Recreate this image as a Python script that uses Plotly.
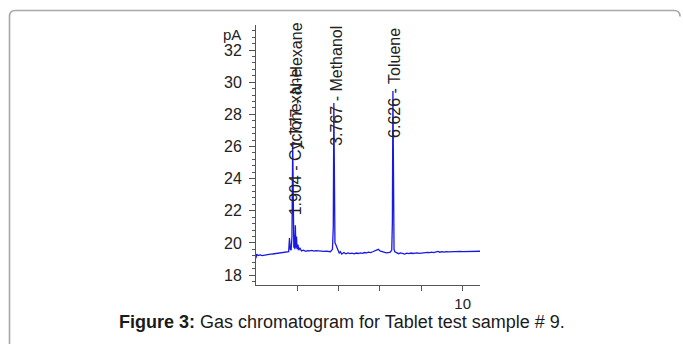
import plotly.graph_objects as go

# Retention time (min) and detector signal (pA)
time_min = [0.00, 0.03, 0.10, 0.20, 0.30, 0.40, 0.50, 0.60, 0.70, 0.80, 0.90, 1.00,
            1.10, 1.20, 1.30, 1.40, 1.50, 1.58, 1.62, 1.66, 1.70, 1.74, 1.777, 1.80,
            1.83, 1.86, 1.88, 1.904, 1.93, 1.96, 1.99, 2.03, 2.07, 2.12, 2.20, 2.30,
            2.40, 2.50, 2.60, 2.70, 2.80, 2.90, 3.00, 3.10, 3.20, 3.30, 3.40, 3.50,
            3.60, 3.70, 3.74, 3.767, 3.79, 3.82, 3.86, 3.92, 3.98, 4.03, 4.08, 4.15,
            4.25, 4.35, 4.45, 4.55, 4.65, 4.75, 4.85, 4.95, 5.05, 5.15, 5.25, 5.35,
            5.45, 5.55, 5.65, 5.75, 5.85, 5.92, 6.00, 6.10, 6.20, 6.30, 6.40, 6.50,
            6.57, 6.60, 6.626, 6.65, 6.68, 6.72, 6.80, 6.90, 7.00, 7.10, 7.20, 7.30,
            7.40, 7.50, 7.60, 7.70, 7.80, 7.90, 8.00, 8.10, 8.20, 8.30, 8.40, 8.50,
            8.60, 8.70, 8.80, 8.90, 9.00, 9.10, 9.20, 9.30, 9.40, 9.50, 9.60, 9.70,
            9.80, 9.90, 10.00, 10.20, 10.40, 10.60, 10.84]
signal_pA = [19.05, 19.30, 19.22, 19.25, 19.21, 19.24, 19.27, 19.26, 19.30, 19.31, 19.33, 19.34,
             19.37, 19.38, 19.40, 19.42, 19.44, 19.46, 20.30, 19.60, 19.55, 20.40, 26.20, 20.60,
             19.70, 20.50, 19.60, 21.10, 19.70, 20.40, 19.60, 19.90, 19.55, 19.70, 19.50, 19.55,
             19.48, 19.52, 19.50, 19.53, 19.49, 19.52, 19.50, 19.48, 19.50, 19.47, 19.49, 19.46,
             19.45, 19.60, 21.00, 28.70, 21.20, 20.00, 19.90, 19.70, 19.50, 19.35, 19.45, 19.30,
             19.40, 19.32, 19.38, 19.33, 19.36, 19.32, 19.37, 19.34, 19.38, 19.35, 19.40, 19.38,
             19.42, 19.40, 19.45, 19.50, 19.58, 19.60, 19.50, 19.45, 19.40, 19.38, 19.40, 19.42,
             19.55, 21.30, 29.45, 21.00, 19.60, 19.45, 19.38, 19.33, 19.38, 19.35, 19.30, 19.36,
             19.33, 19.37, 19.34, 19.36, 19.38, 19.35, 19.37, 19.40, 19.38, 19.41, 19.39, 19.42,
             19.40, 19.43, 19.47, 19.42, 19.45, 19.43, 19.46, 19.44, 19.45, 19.47, 19.45, 19.48,
             19.46, 19.47, 19.46, 19.47, 19.48, 19.47, 19.48]

peak_times = [1.777, 1.904, 3.767, 6.626]
peak_names = ["N-Hexane", "Cyclohexane", "Methanol", "Toluene"]

x_tick_vals = [2, 4, 6, 8, 10]
x_tick_text = ["", "", "", "", "10"]
y_tick_vals = [18, 20, 22, 24, 26, 28, 30, 32]

FONT = "Liberation Sans, Arial, sans-serif"

fig = go.Figure()
fig.add_trace(go.Scatter(x=time_min, y=signal_pA, mode="lines",
                         line=dict(color="rgb(25,25,225)", width=1.3),
                         hoverinfo="skip", showlegend=False))

# plot area in pixels: x 256..480, y 25..285
L, R, T, B = 256, 480, 25, 285
def px(xp):
    return (xp - L) / (R - L)
def py(yp):
    return (B - yp) / (B - T)

label_pos = [  # (xshift px, center y px)
    (3, 86), (0, 142), (2, 86), (1, 83)]
annotations = []
for t, name, (dx, cy) in zip(peak_times, peak_names, label_pos):
    annotations.append(dict(x=t, y=py(cy), xref="x", yref="paper",
                            text=f"{t:.3f} - {name}", textangle=-90,
                            showarrow=False, xanchor="center", yanchor="middle",
                            xshift=dx, font=dict(family=FONT, size=16, color="#222")))
annotations.append(dict(x=px(232), y=py(34), xref="paper", yref="paper", text="pA",
                        showarrow=False, xanchor="center", yanchor="middle",
                        font=dict(family=FONT, size=15, color="#222")))
annotations.append(dict(x=px(342), y=py(322), xref="paper", yref="paper",
                        text="<b>Figure 3:</b> Gas chromatogram for Tablet test sample # 9.",
                        showarrow=False, xanchor="center", yanchor="middle",
                        borderpad=0,
                        font=dict(family=FONT, size=18, color="#1a1a1a")))

# rounded frame around the figure
xl, xr_, yt, yb = px(9.5), px(680), py(10.5), py(360)
rx, ry = 6 / (R - L), 6 / (B - T)
frame = (f"M {xl},{yb} L {xl},{yt - ry} Q {xl},{yt} {xl + rx},{yt} "
         f"L {xr_ - rx},{yt} Q {xr_},{yt} {xr_},{yt - ry}")

fig.update_layout(
    width=683, height=344,
    margin=dict(l=L, r=683 - R, t=T, b=344 - B, pad=0),
    paper_bgcolor="white", plot_bgcolor="white",
    font=dict(family=FONT, size=16, color="#222"),
    annotations=annotations,
    shapes=[dict(type="path", path=frame, xref="paper", yref="paper",
                 line=dict(color="#a8a8a8", width=1.6), layer="above")],
    xaxis=dict(range=[0, 10.84], showgrid=False, zeroline=False,
               showline=True, linecolor="#555", linewidth=1,
               ticks="outside", ticklen=5, tickcolor="#555", tickwidth=1,
               ticklabelstandoff=0,
               tickvals=x_tick_vals, ticktext=x_tick_text,
               tickfont=dict(family=FONT, size=15, color="#222")),
    yaxis=dict(range=[17.38, 33.56], showgrid=False, zeroline=False,
               showline=True, linecolor="#555", linewidth=1,
               ticks="outside", ticklen=6, tickcolor="#555", tickwidth=1,
               tickvals=y_tick_vals, ticklabelstandoff=4,
               minor=dict(ticks="outside", ticklen=3, dtick=0.4, tick0=18,
                          tickcolor="#555", tickwidth=1),
               tickfont=dict(family=FONT, size=16, color="#222")),
)

fig.write_html("out.html", config={"displayModeBar": False, "staticPlot": True},
               post_script="document.body.style.margin='0';document.body.style.overflow='hidden';")
